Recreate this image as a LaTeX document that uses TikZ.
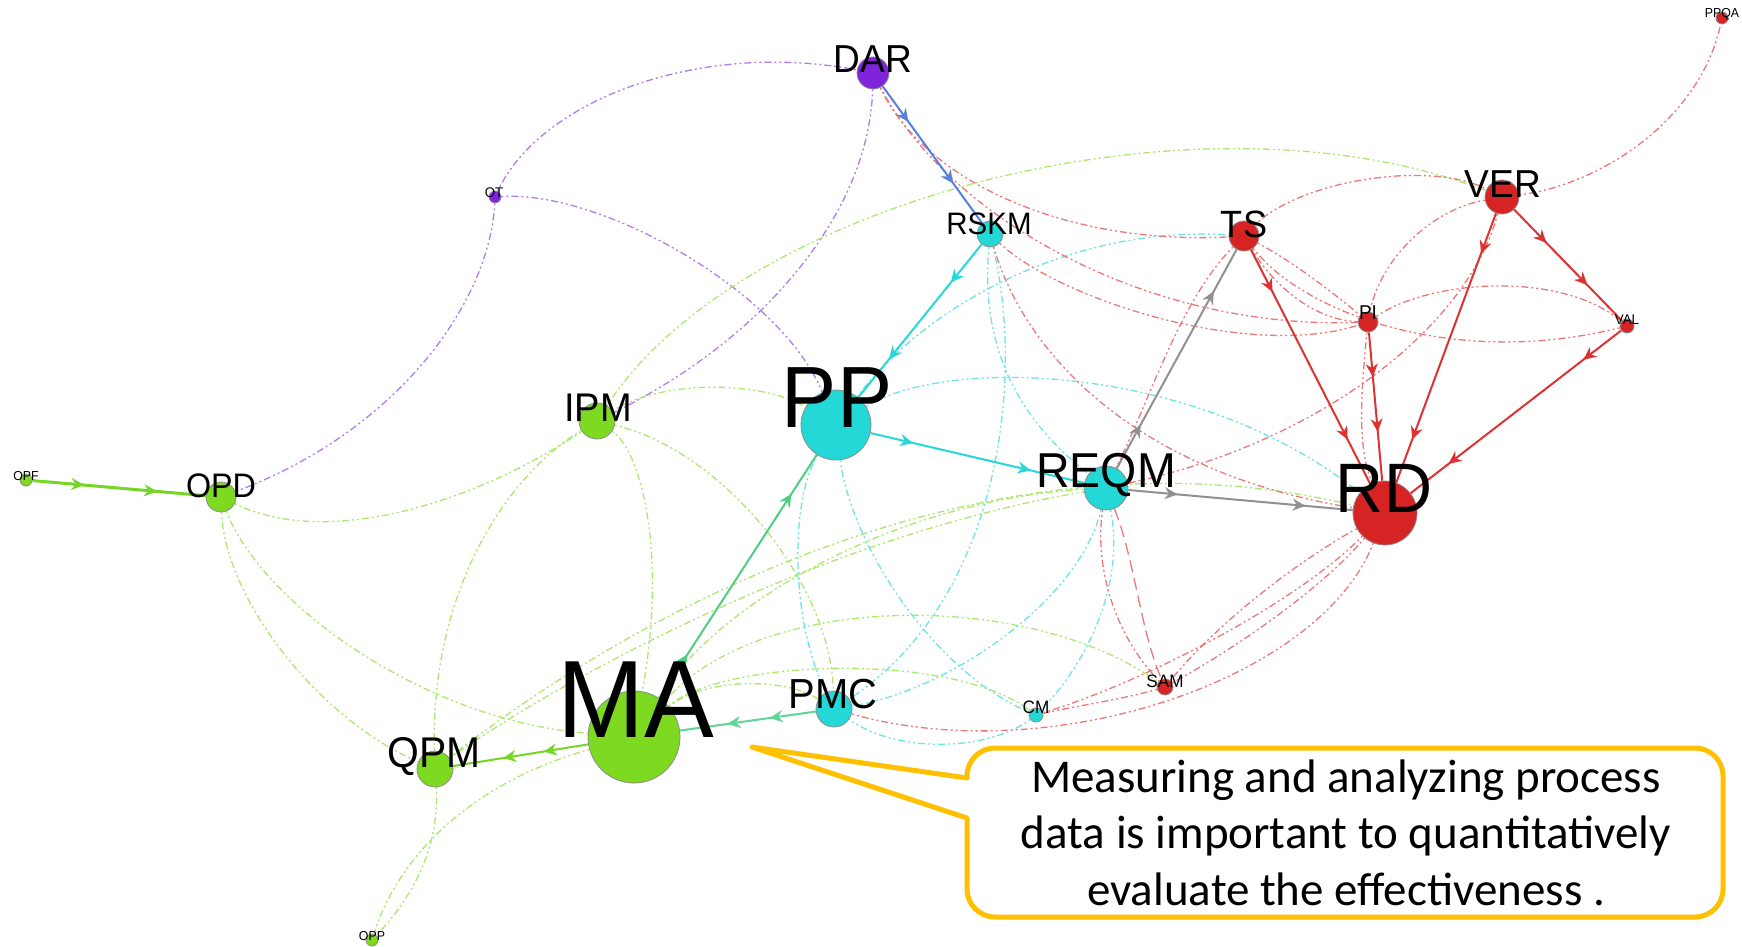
\documentclass[tikz,border=0pt]{standalone}
\usepackage{fontspec}
\setmainfont{Liberation Sans}
\newfontfamily\notefont{Carlito}
\usetikzlibrary{arrows.meta,decorations.markings,backgrounds}

% vertex fills
\definecolor{ngreen}{RGB}{126,217,33}
\definecolor{ncyan}{RGB}{36,216,216}
\definecolor{nred}{RGB}{214,36,36}
\definecolor{npurple}{RGB}{128,36,220}
% soft (dashed) link colours
\definecolor{egreen}{RGB}{172,232,112}
\definecolor{ecyan}{RGB}{110,228,232}
\definecolor{ered}{RGB}{236,120,120}
\definecolor{epurple}{RGB}{178,125,238}
% firm (solid) link colours
\definecolor{sgreen}{RGB}{118,214,40}
\definecolor{steal}{RGB}{80,206,130}
\definecolor{steal2}{RGB}{95,214,150}
\definecolor{scyan}{RGB}{40,216,216}
\definecolor{sblue}{RGB}{85,130,225}
\definecolor{sgray}{RGB}{145,145,145}
\definecolor{sred}{RGB}{222,50,50}
\definecolor{callout}{RGB}{255,192,0}

\tikzset{
  vtx/.style={circle,inner sep=0pt,draw=black!45,line width=0.8pt,minimum size=#1},
  gv/.style={vtx=#1,fill=ngreen},
  cv/.style={vtx=#1,fill=ncyan},
  rv/.style={vtx=#1,fill=nred},
  pv/.style={vtx=#1,fill=npurple},
  lbl/.style={inner sep=0pt,anchor=base,xscale=0.95,font=\fontsize{#1}{#1}\selectfont},
  soft/.style={line width=1.3pt,dash pattern=on 2pt off 3pt on 2pt off 3pt on 7pt off 3pt},
  ge/.style={soft,draw=egreen},
  ce/.style={soft,draw=ecyan},
  re/.style={soft,draw=ered},
  pe/.style={soft,draw=epurple},
  longdash/.style={dash pattern=on 12pt off 6pt},
  firm/.style={line width=2pt},
  marks/.style 2 args={postaction={decorate,decoration={markings,
      mark=at position #1 with {\arrow{Stealth[length=13pt,width=12pt]}},
      mark=at position #2 with {\arrow{Stealth[length=13pt,width=12pt]}}}}},
  notetext/.style={inner sep=0pt,anchor=base,font=\notefont\fontsize{47}{57}\selectfont},
}

\begin{document}
\begin{tikzpicture}[x=1pt,y=-1pt]
\useasboundingbox (0,0) rectangle (1742,947);

% ---- vertices ----
\node[pv=32pt] (DAR) at (873,73) {};
\node[pv=12pt] (OT) at (495,197) {};
\node[cv=26pt] (RSKM) at (990,234) {};
\node[rv=30pt] (TS) at (1244,236) {};
\node[rv=34pt] (VER) at (1502,197) {};
\node[rv=12pt] (PPQA) at (1722,18) {};
\node[rv=20pt] (PI) at (1368,322) {};
\node[rv=14pt] (VAL) at (1627,326) {};
\node[cv=70pt] (PP) at (836,425) {};
\node[gv=36pt] (IPM) at (597,421) {};
\node[gv=30pt] (OPD) at (221,497) {};
\node[gv=12pt] (OPF) at (26,480) {};
\node[cv=44pt] (REQM) at (1106,488) {};
\node[rv=64pt] (RD) at (1385,513) {};
\node[gv=92pt] (MA) at (634,737) {};
\node[cv=36pt] (PMC) at (834,709) {};
\node[cv=14pt] (CM) at (1036,715) {};
\node[rv=16pt] (SAM) at (1165,687) {};
\node[gv=36pt] (QPM) at (435,769) {};
\node[gv=12pt] (OPP) at (372,940) {};

% ---- links, kept under the vertices ----
\begin{scope}[on background layer]
\fill[white] (0,0) rectangle (1742,947);

% purple
\draw[pe] (OT) .. controls (540,100) and (700,40) .. (DAR);
\draw[pe] (OT) .. controls (490,300) and (400,430) .. (OPD);
\draw[pe] (OT) .. controls (600,190) and (780,290) .. (PP);
\draw[pe] (DAR) .. controls (870,200) and (780,330) .. (IPM);

% green
\draw[ge] (OPD) .. controls (225,600) and (320,720) .. (QPM);
\draw[ge] (OPD) .. controls (260,600) and (420,720) .. (MA);
\draw[ge] (OPD) .. controls (330,550) and (480,500) .. (IPM);
\draw[ge] (IPM) .. controls (500,480) and (430,600) .. (QPM);
\draw[ge] (IPM) .. controls (640,450) and (668,550) .. (MA);
\draw[ge] (IPM) .. controls (720,450) and (830,580) .. (PMC);
\draw[ge] (IPM) .. controls (660,380) and (760,380) .. (PP);
\draw[ge] (IPM) .. controls (740,200) and (1200,80) .. (VER);
\draw[ge] (QPM) .. controls (530,700) and (800,540) .. (REQM);
\draw[ge] (QPM) .. controls (650,600) and (1000,420) .. (RD);
\draw[ge] (MA) .. controls (720,600) and (900,500) .. (REQM);
\draw[ge] (MA) .. controls (760,590) and (1030,590) .. (SAM);
\draw[ge] (MA) .. controls (720,660) and (950,650) .. (CM);
\draw[ge] (MA) .. controls (700,680) and (780,675) .. (PMC);
\draw[ge] (QPM) .. controls (440,850) and (410,900) .. (OPP);
\draw[ge] (MA) .. controls (480,780) and (400,850) .. (OPP);

% cyan
\draw[ce] (RSKM) .. controls (980,350) and (1020,420) .. (REQM);
\draw[ce] (RSKM) .. controls (1025,380) and (1000,600) .. (PMC);
\draw[ce] (PP) .. controls (930,300) and (1080,225) .. (TS);
\draw[ce] (PP) .. controls (950,355) and (1200,365) .. (RD);
\draw[ce] (PP) .. controls (850,540) and (930,670) .. (CM);
\draw[ce] (PP) .. controls (790,500) and (790,620) .. (PMC);
\draw[ce] (REQM) .. controls (1080,600) and (950,690) .. (PMC);
\draw[ce] (REQM) .. controls (1125,580) and (1090,660) .. (CM);
\draw[ce] (CM) .. controls (990,750) and (900,755) .. (PMC);

% red
\draw[re] (DAR) .. controls (930,190) and (1080,245) .. (TS);
\draw[re] (DAR) .. controls (950,220) and (1150,330) .. (PI);
\draw[re] (RSKM) .. controls (1060,300) and (1250,360) .. (PI);
\draw[re] (RSKM) .. controls (1020,340) and (1120,470) .. (RD);
\draw[re] (TS) .. controls (1180,300) and (1150,400) .. (REQM);
\draw[re] (REQM) .. controls (1095,560) and (1110,630) .. (SAM);
\draw[re,longdash] (REQM) .. controls (1135,560) and (1140,630) .. (SAM);
\draw[re] (TS) .. controls (1300,180) and (1430,160) .. (VER);
\draw[re] (TS) .. controls (1290,260) and (1330,290) .. (PI);
\draw[re] (TS) .. controls (1270,280) and (1310,320) .. (PI);
\draw[re] (TS) .. controls (1300,310) and (1450,370) .. (VAL);
\draw[re] (PI) .. controls (1430,280) and (1560,270) .. (VAL);
\draw[re] (VER) .. controls (1430,210) and (1380,260) .. (PI);
\draw[re] (VER) .. controls (1470,320) and (1330,440) .. (REQM);
\draw[re] (VER) .. controls (1600,185) and (1700,120) .. (PPQA);
\draw[re] (PI) .. controls (1360,400) and (1358,450) .. (RD);
\draw[re] (RD) .. controls (1300,560) and (1220,620) .. (SAM);
\draw[re] (RD) .. controls (1330,580) and (1250,640) .. (SAM);
\draw[re] (RD) .. controls (1300,600) and (1150,680) .. (CM);
\draw[re] (RD) .. controls (1320,680) and (1050,770) .. (PMC);
\draw[re] (SAM) .. controls (1120,700) and (1080,705) .. (CM);

% solid links with direction marks
\draw[firm,line width=3pt,draw=sgreen,marks={0.3}{0.72}] (OPF) -- (OPD);
\draw[firm,draw=sgreen,marks={0.33}{0.63}] (MA) -- (QPM);
\draw[firm,draw=steal2,marks={0.34}{0.65}] (PMC) -- (MA);
\draw[firm,draw=steal,marks={0.18}{0.84}] (MA) -- (PP);
\draw[firm,draw=scyan,marks={0.25}{0.75}] (RSKM) -- (PP);
\draw[firm,draw=scyan,marks={0.2}{0.75}] (PP) -- (REQM);
\draw[firm,draw=sblue,marks={0.26}{0.71}] (DAR) -- (RSKM);
\draw[firm,draw=sgray,marks={0.2}{0.81}] (REQM) -- (TS);
\draw[firm,draw=sgray,marks={0.22}{0.79}] (REQM) -- (RD);
\draw[firm,draw=sred,marks={0.18}{0.81}] (TS) -- (RD);
\draw[firm,draw=sred,marks={0.15}{0.84}] (VER) -- (RD);
\draw[firm,draw=sred,marks={0.3}{0.68}] (VER) -- (VAL);
\draw[firm,draw=sred,marks={0.18}{0.82}] (VAL) -- (RD);
\draw[firm,draw=sred,marks={0.3}{0.67}] (PI) -- (RD);
\end{scope}

% ---- vertex labels ----
\node[lbl=110] (tMA) at (636,737) {MA};
\node[lbl=87] (tPP) at (837,427) {PP};
\node[lbl=70] (tRD) at (1384,512) {RD};
\node[lbl=49] (tREQM) at (1106,487) {REQM};
\node[lbl=40] (tIPM) at (598,421) {IPM};
\node[lbl=43] (tQPM) at (434,767) {QPM};
\node[lbl=42] (tPMC) at (833,708) {PMC};
\node[lbl=34] (tOPD) at (221,497) {OPD};
\node[lbl=39] (tDAR) at (873,73) {DAR};
\node[lbl=39] (tVER) at (1503,197) {VER};
\node[lbl=38] (tTS) at (1244,237) {TS};
\node[lbl=31] (tRSKM) at (989,234) {RSKM};
\node[lbl=20] (tPI) at (1368,319) {PI};
\node[lbl=18] (tCM) at (1036,713) {CM};
\node[lbl=18] (tSAM) at (1165,687) {SAM};
\node[lbl=14] (tVAL) at (1627,324) {VAL};
\node[lbl=14] (tOT) at (494,197) {OT};
\node[lbl=13] (tOPF) at (26,480) {OPF};
\node[lbl=13] (tOPP) at (372,940) {OPP};
\node[lbl=13] (tPPQA) at (1722,18) {PPQA};

% ---- callout ----
\draw[line width=5pt,draw=callout,fill=white,line join=round]
  (967,778) -- (967,776) arc[start angle=180,end angle=270,radius=28]
  -- (1695,748) arc[start angle=270,end angle=360,radius=28]
  -- (1723,889) arc[start angle=0,end angle=90,radius=28]
  -- (995,917) arc[start angle=90,end angle=180,radius=28]
  -- (967,818) -- (752,747) -- cycle;
\node[notetext] (note1) at (1346,792) {Measuring and analyzing process};
\node[notetext] (note2) at (1346,848) {data is important to quantitatively};
\node[notetext] (note3) at (1346,905) {evaluate the effectiveness .};
\end{tikzpicture}
\end{document}
